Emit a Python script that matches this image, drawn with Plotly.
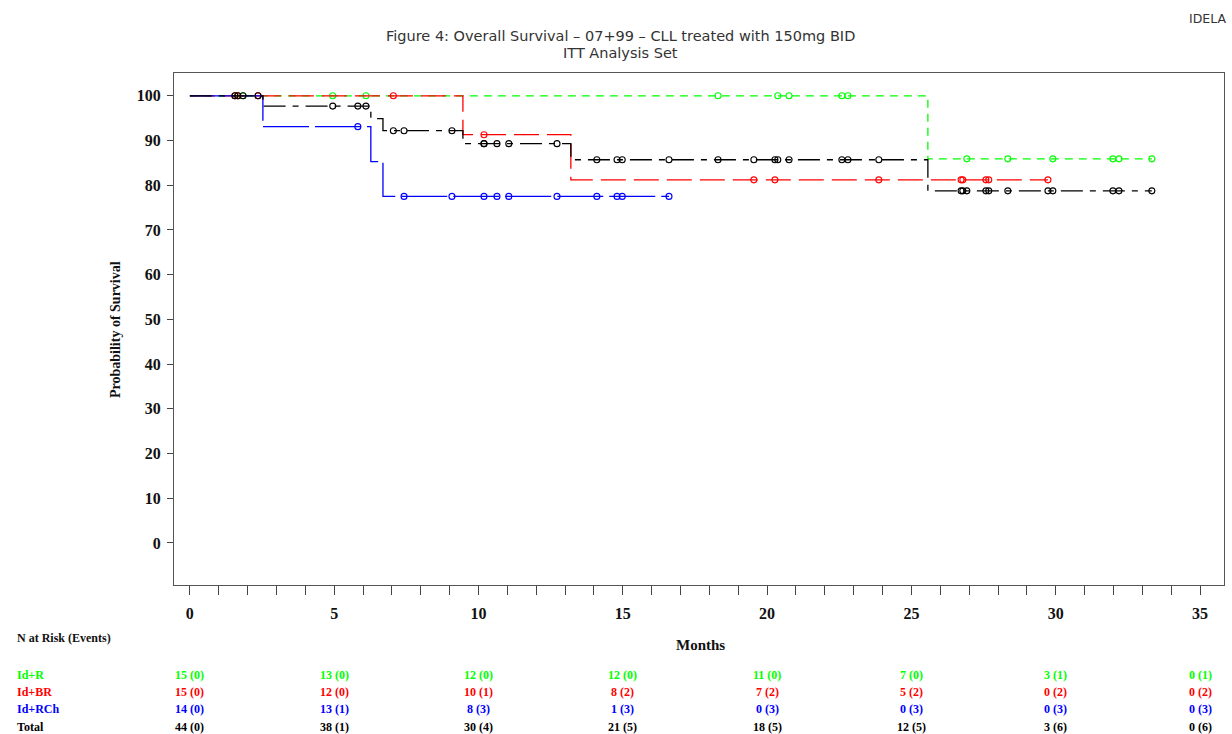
import numpy as np
import plotly.graph_objects as go

# ---- Kaplan-Meier step estimates: event times (months) and survival (%) ----
idr_times = [0, 25.57]
idr_surv = [100, 85.9]
idr_end = 33.33
idr_cens = [1.84, 4.95, 6.10, 18.30, 20.37, 20.76, 22.59, 22.80,
            26.92, 28.34, 29.90, 31.98, 32.19, 33.33]

idbr_times = [0, 9.46, 13.20]
idbr_surv = [100, 91.3, 81.2]
idbr_end = 29.73
idbr_cens = [1.56, 1.66, 2.36, 7.05, 10.19, 19.54, 20.27, 23.87,
             26.72, 26.78, 27.58, 27.68, 29.73]

idrch_times = [0, 2.53, 6.27, 6.69]
idrch_surv = [100, 93.1, 85.3, 77.5]
idrch_end = 16.60
idrch_cens = [5.82, 7.42, 9.08, 10.19, 10.64, 11.05, 12.72, 14.10,
              14.80, 14.98, 16.60]

total_times = [0, 2.53, 6.27, 6.69, 9.46, 13.20, 25.57]
total_surv = [100, 97.7, 94.9, 92.2, 89.3, 85.7, 78.75]
total_end = 33.33
total_cens = sorted(idr_cens + idbr_cens + idrch_cens)

# ---- number at risk (events) table ----
risk_months = [0, 5, 10, 15, 20, 25, 30, 35]
risk_idr = ["15 (0)", "13 (0)", "12 (0)", "12 (0)", "11 (0)", "7 (0)", "3 (1)", "0 (1)"]
risk_idbr = ["15 (0)", "12 (0)", "10 (1)", "8 (2)", "7 (2)", "5 (2)", "0 (2)", "0 (2)"]
risk_idrch = ["14 (0)", "13 (1)", "8 (3)", "1 (3)", "0 (3)", "0 (3)", "0 (3)", "0 (3)"]
risk_total = ["44 (0)", "38 (1)", "30 (4)", "21 (5)", "18 (5)", "12 (5)", "3 (6)", "0 (6)"]

y_ticks = list(range(0, 101, 10))
x_ticks = list(range(0, 36, 5))

GREEN, RED, BLUE, BLACK = "#00ff00", "#ff0000", "#0000ff", "#000000"
SERIF = "Liberation Serif"

groups = [
    ("Id+R", idr_times, idr_surv, idr_end, idr_cens, GREEN, "8px,6px", risk_idr),
    ("Id+BR", idbr_times, idbr_surv, idbr_end, idbr_cens, RED, "25px,8px", risk_idbr),
    ("Id+RCh", idrch_times, idrch_surv, idrch_end, idrch_cens, BLUE, "46px,6px", risk_idrch),
    ("Total", total_times, total_surv, total_end, total_cens, BLACK, "22px,7px,6px,7px", risk_total),
]

W, H = 1232, 734
ML, MR, MT, MB = 174, 8, 73, 149
PW, PH = W - ML - MR, H - MT - MB


def px(xpix):
    return (xpix - ML) / PW


def py(ypix):
    return (H - MB - ypix) / PH


fig = go.Figure()

for name, t, s, end, cens, col, dash, _ in groups:
    xs = list(t) + [end]
    ys = list(s) + [s[-1]]
    fig.add_trace(go.Scatter(
        x=xs, y=ys, mode="lines", line=dict(color=col, width=1.3, dash=dash, shape="hv"),
        name=name, showlegend=False, hoverinfo="skip"))
    idx = np.searchsorted(np.array(t), np.array(cens), side="right") - 1
    cy = np.array(s)[idx]
    fig.add_trace(go.Scatter(
        x=cens, y=cy, mode="markers",
        marker=dict(symbol="circle-open", size=6, color=col, line=dict(width=1.1, color=col)),
        showlegend=False, hoverinfo="skip"))

ann = []


def note(text, xp, yp, size, color="#111", family=SERIF, bold=True, xanchor="center", **kw):
    ann.append(dict(text=text, x=xp, y=yp, xref=kw.pop("xref", "paper"), yref="paper",
                    xanchor=xanchor, yanchor="middle", showarrow=False,
                    font=dict(family=family, size=size, color=color,
                              weight="bold" if bold else "normal"), **kw))


# titles
note("Figure 4: Overall Survival \u2013 07+99 \u2013 CLL treated with 150mg BID",
     px(620), py(36), 14.5, color="#333", family="DejaVu Sans", bold=False)
note("ITT Analysis Set", px(620), py(53), 14.5, color="#333", family="DejaVu Sans", bold=False)
note("IDELA", px(1228), py(18), 12.5, color="#333", family="DejaVu Sans", bold=False,
     xanchor="right")
# axis titles
note("Probability of Survival", px(115), py(330), 14, textangle=-90)
note("Months", px(700), py(645), 15)
note("N at Risk (Events)", px(15), py(638), 12, xanchor="left")

row_y = [675, 692, 709, 727]
for (name, t, s, end, cens, col, dash, labels), ry in zip(groups, row_y):
    note(name, px(15), py(ry), 12, color=col, xanchor="left")
    for m, lab in zip(risk_months, labels):
        note(lab, m, py(ry), 12, color=col, xref="x")

fig.update_layout(
    width=W, height=H,
    margin=dict(l=ML, r=MR, t=MT, b=MB, pad=0),
    plot_bgcolor="white", paper_bgcolor="white",
    annotations=ann,
    xaxis=dict(range=[-0.55, 35.83], tickvals=x_ticks, ticks="outside", ticklen=9,
               tickcolor="#444", showgrid=False, zeroline=False,
               showline=True, mirror=True, linecolor="#555", linewidth=1,
               minor=dict(dtick=1, tick0=0, ticks="outside", ticklen=9, tickcolor="#444"),
               tickfont=dict(family=SERIF, size=16, color="#111", weight="bold"),
               ticklabelstandoff=5),
    yaxis=dict(range=[-9.4, 105.1], tickvals=y_ticks, ticks="outside", ticklen=6,
               tickcolor="#444", showgrid=False, zeroline=False,
               showline=True, mirror=True, linecolor="#555", linewidth=1,
               tickfont=dict(family=SERIF, size=16, color="#111", weight="bold"),
               ticklabelstandoff=3),
)

fig.write_html("out.html")
